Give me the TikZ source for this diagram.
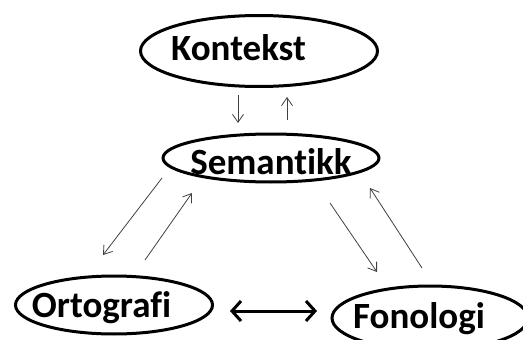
\documentclass[tikz,border=0pt]{standalone}
\usepackage{fontspec}
\setmainfont[Ligatures={NoCommon}]{Carlito}
\usetikzlibrary{shapes.geometric,arrows.meta}
\tikzset{
  blob/.style={draw=black, line width=3pt, ellipse, inner sep=0pt},
  word/.style={font=\bfseries\fontsize{37}{37}\selectfont, inner sep=0pt, anchor=base},
  thin/.style={draw=black!75, line width=0.8pt, -{Straight Barb[length=8pt,width=11pt,line width=0.8pt]}},
  thick2/.style={draw=black, line width=3pt, {Straight Barb[length=9pt,width=20pt,line width=3pt]}-{Straight Barb[length=9pt,width=20pt,line width=3pt]}}
}
\begin{document}
\begin{tikzpicture}[x=1pt,y=-1pt]
  \useasboundingbox (0,0) rectangle (523,340);
  % ellipses
  \node[blob, minimum width=237pt, minimum height=71pt] (kon) at (259,51) {};
  \node[blob, minimum width=216pt, minimum height=48pt] (sem) at (271,158) {};
  \node[blob, minimum width=197pt, minimum height=58pt] (ort) at (114,305) {};
  \node[blob, minimum width=196pt, minimum height=64pt] (fon) at (430,318) {};
  % labels
  \node[word] (konT) at (238.5,60) {Kontekst};
  \node[word] (semT) at (271,174) {Semantikk};
  \node[word] (ortT) at (101.5,317) {Ortografi};
  \node[word] (fonT) at (419,328) {Fonologi};
  % free arrow ends
  \coordinate (a1) at (238,95);  \coordinate (a2) at (238,123);
  \coordinate (b1) at (287,120); \coordinate (b2) at (287,97);
  \coordinate (c1) at (162,178); \coordinate (c2) at (103,255);
  \coordinate (d1) at (145,260); \coordinate (d2) at (192,193);
  \coordinate (e1) at (330,203); \coordinate (e2) at (377,272);
  \coordinate (f1) at (422,268); \coordinate (f2) at (370,188);
  \coordinate (g1) at (230,311); \coordinate (g2) at (317,311);
  \draw[thin] (a1) -- (a2);
  \draw[thin] (b1) -- (b2);
  \draw[thin] (c1) -- (c2);
  \draw[thin] (d1) -- (d2);
  \draw[thin] (e1) -- (e2);
  \draw[thin] (f1) -- (f2);
  \draw[thick2] (g1) -- (g2);
\end{tikzpicture}
\end{document}
